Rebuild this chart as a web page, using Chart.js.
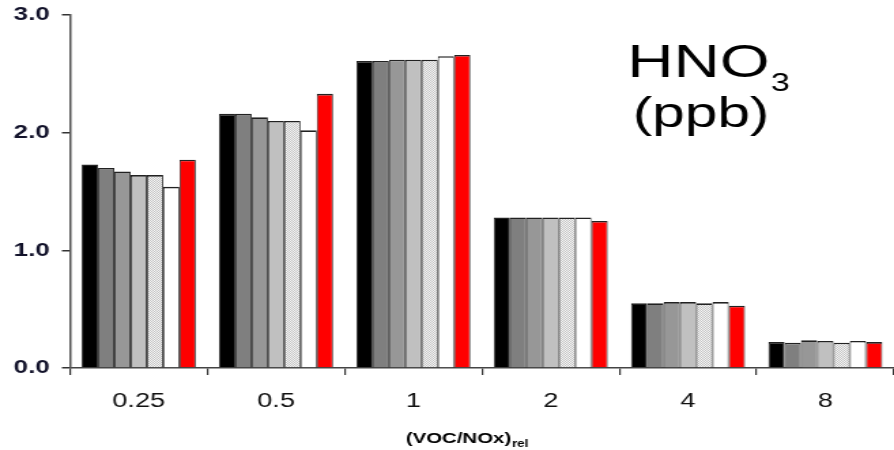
<!DOCTYPE html>
<html lang="en">
<head>
<meta charset="UTF-8">
<title>HNO3 (ppb) vs (VOC/NOx)rel</title>
<script src="https://cdn.jsdelivr.net/npm/chart.js"></script>
<style>
  body { margin: 0; background: #fff; }
</style>
</head>
<body>
<!-- the original figure is stretched sideways, so the canvas is drawn narrow and widened by its inline style -->
<canvas id="grafico" width="657" height="450" style="display:block;width:894px;height:450px;"></canvas>
<script>
  // categorias do eixo x
  const razoes = ["0.25", "0.5", "1", "2", "4", "8"];
  // ticks do eixo y
  const ticksY = [0, 1, 2, 3];

  // uma serie por cor de barra
  const seriePreta = [1.73, 2.16, 2.61, 1.28, 0.55, 0.22];
  const serieCinzaEscura = [1.70, 2.16, 2.61, 1.28, 0.55, 0.215];
  const serieCinza = [1.67, 2.13, 2.62, 1.28, 0.56, 0.235];
  const serieCinzaClara = [1.64, 2.10, 2.62, 1.28, 0.56, 0.23];
  const seriePontilhada = [1.64, 2.10, 2.62, 1.28, 0.55, 0.215];
  const serieBranca = [1.54, 2.02, 2.65, 1.28, 0.56, 0.23];
  const serieVermelha = [1.77, 2.33, 2.66, 1.25, 0.53, 0.22];

  const fonte = '"Liberation Sans", Arial, sans-serif';

  // padrao pontilhado da quinta barra
  const pc = document.createElement("canvas");
  pc.width = 2;
  pc.height = 2;
  const pctx = pc.getContext("2d");
  pctx.fillStyle = "#f6f6f6";
  pctx.fillRect(0, 0, 2, 2);
  pctx.fillStyle = "#c4c4c4";
  pctx.fillRect(0, 0, 1, 1);
  pctx.fillRect(1, 1, 1, 1);
  const ctx = document.getElementById("grafico").getContext("2d");
  const pontilhado = ctx.createPattern(pc, "repeat");

  function serie(dados, cor) {
    return {
      data: dados,
      backgroundColor: cor,
      borderColor: "#222",
      borderWidth: { top: 1.6, left: 0.9, right: 0.9, bottom: 0 },
      borderSkipped: false,
      categoryPercentage: 0.83,
      barPercentage: 1.0
    };
  }

  // textos HNO3 (ppb) e titulo do eixo x com subscrito
  const textos = {
    id: "textos",
    afterDraw(chart) {
      const c = chart.ctx;
      c.save();
      c.fillStyle = "#000";
      c.textAlign = "left";
      c.textBaseline = "alphabetic";

      c.font = "47px " + fonte;
      c.fillText("HNO", 461, 77);
      const wHno = c.measureText("HNO").width;
      c.font = "25px " + fonte;
      c.fillText("3", 461 + wHno + 1, 91);
      c.font = "43px " + fonte;
      c.fillText("(ppb)", 465, 127);

      c.font = "bold 15px " + fonte;
      const t1 = "(VOC/NOx)";
      const w1 = c.measureText(t1).width;
      c.font = "bold 10px " + fonte;
      const w2 = c.measureText("rel").width;
      const x0 = 343 - (w1 + w2) / 2;
      c.font = "bold 15px " + fonte;
      c.fillText(t1, x0, 443);
      c.font = "bold 10px " + fonte;
      c.fillText("rel", x0 + w1 + 0.5, 447);
      c.restore();
    }
  };

  const grafico = new Chart(ctx, {
    type: "bar",
    data: {
      labels: razoes,
      datasets: [
        serie(seriePreta, "#000000"),
        serie(serieCinzaEscura, "#7f7f7f"),
        serie(serieCinza, "#979797"),
        serie(serieCinzaClara, "#c0c0c0"),
        serie(seriePontilhada, pontilhado),
        serie(serieBranca, "#ffffff"),
        serie(serieVermelha, "#ff0000")
      ]
    },
    options: {
      responsive: false,
      animation: false,
      layout: { padding: { top: 15, right: 0, bottom: 0, left: 0 } },
      plugins: {
        legend: { display: false },
        tooltip: { enabled: false }
      },
      scales: {
        x: {
          grid: {
            offset: true,
            drawOnChartArea: false,
            drawTicks: true,
            tickLength: 7,
            tickColor: "#333",
            lineWidth: 1.2
          },
          border: { display: true, color: "#444", width: 1.5 },
          ticks: {
            color: "#111",
            padding: 14,
            font: { family: fonte, size: 20 }
          },
          afterFit(scale) {
            scale.height = 82;
            scale.paddingLeft = 0;
            scale.paddingRight = 0;
          }
        },
        y: {
          min: 0,
          max: 3,
          afterBuildTicks(scale) {
            scale.ticks = ticksY.map(v => ({ value: v }));
          },
          grid: {
            drawOnChartArea: false,
            drawTicks: true,
            tickLength: 6,
            tickColor: "#333",
            lineWidth: 1.5
          },
          border: { display: true, color: "#555", width: 1.5 },
          ticks: {
            color: "#12122a",
            padding: 9,
            font: { family: fonte, size: 19, weight: "bold" },
            callback: v => Number(v).toFixed(1)
          },
          afterFit(scale) {
            scale.width = 51.5;
            scale.paddingTop = 0;
            scale.paddingBottom = 0;
          }
        }
      }
    },
    plugins: [textos]
  });
</script>
</body>
</html>
